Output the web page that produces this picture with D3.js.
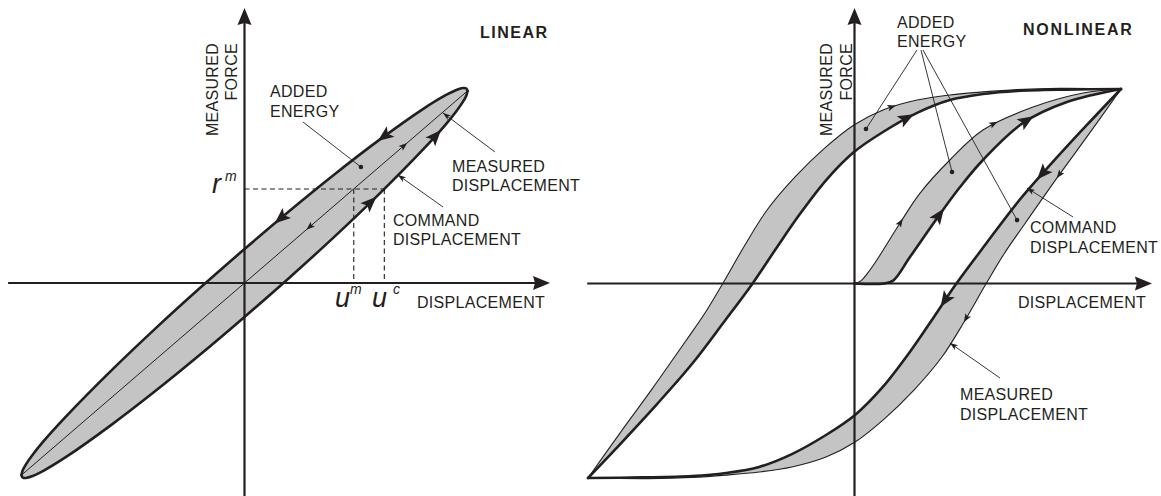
<!DOCTYPE html>
<html>
<head>
<meta charset="utf-8">
<script src="https://cdn.jsdelivr.net/npm/d3@7"></script>
<style>
  body { margin: 0; background: #fff; }
  svg { display: block; }
  text { font-family: "Liberation Sans", Arial, sans-serif; fill: #231f20; }
</style>
</head>
<body>
<svg id="chart" width="1161" height="496"></svg>
<script>
// ------------------------------------------------------------------
// LINEAR specimen: force vs displacement, normalised to peak = 1
// ------------------------------------------------------------------
// command-displacement loop, loading branch (moving up-right)
const linearLoading = [[-1,-0.985],[-0.995,-0.997],[-0.98,-1.0],[-0.95,-0.99],[-0.9,-0.962],[-0.8,-0.892],
  [-0.6,-0.73],[-0.4,-0.554],[-0.2,-0.368],[0,-0.174],[0.2,0.026],[0.4,0.234],[0.6,0.452],[0.8,0.684],
  [0.9,0.81],[0.95,0.881],[0.98,0.93],[0.995,0.962],[1,0.985]];
// command-displacement loop, unloading branch (moving down-left)
const linearUnloading = [[1,0.985],[0.995,0.997],[0.98,1.0],[0.95,0.99],[0.9,0.962],[0.8,0.892],
  [0.6,0.73],[0.4,0.554],[0.2,0.368],[0,0.174],[-0.2,-0.026],[-0.4,-0.234],[-0.6,-0.452],[-0.8,-0.684],
  [-0.9,-0.81],[-0.95,-0.881],[-0.98,-0.93],[-0.995,-0.962],[-1,-0.985]];
// measured displacement (straight line through the origin)
const linearMeasured = [[-1,-0.985],[1,0.985]];
// reference force and the two displacements reached at that force
const forceRm = 0.482;
const dispUm = 0.49;
const dispUc = 0.627;

// ------------------------------------------------------------------
// NONLINEAR specimen
// ------------------------------------------------------------------
// outer loop, rising branch
const outerRiseMeasured = [[-1,-1],[-0.88,-0.769],[-0.76,-0.543],[-0.636,-0.301],[-0.561,-0.152],[-0.493,0.003],
  [-0.411,0.198],[-0.328,0.378],[-0.223,0.548],[-0.111,0.697],[-0.002,0.815],[0.107,0.892],[0.235,0.943],
  [0.358,0.969],[0.482,0.985],[0.61,0.997],[0.771,1.003],[1,1]];
const outerRiseCommand = [[-1,-1],[-0.872,-0.815],[-0.741,-0.62],[-0.61,-0.414],[-0.49,-0.198],[-0.381,0.003],
  [-0.298,0.172],[-0.205,0.357],[-0.103,0.537],[-0.002,0.676],[0.107,0.779],[0.235,0.877],[0.358,0.943],
  [0.482,0.974],[0.61,0.99],[0.797,0.997],[1,1]];
// outer loop, falling branch
const outerFallCommand = [[1,1],[0.872,0.815],[0.741,0.62],[0.61,0.414],[0.49,0.198],[0.381,-0.003],
  [0.298,-0.172],[0.205,-0.357],[0.103,-0.537],[0.002,-0.676],[-0.107,-0.779],[-0.235,-0.877],[-0.358,-0.943],
  [-0.482,-0.974],[-0.61,-0.99],[-0.797,-0.997],[-1,-1]];
const outerFallMeasured = [[1,1],[0.88,0.769],[0.76,0.543],[0.636,0.301],[0.561,0.152],[0.493,-0.003],
  [0.411,-0.198],[0.328,-0.378],[0.223,-0.548],[0.111,-0.697],[0.002,-0.815],[-0.107,-0.892],[-0.235,-0.943],
  [-0.358,-0.969],[-0.482,-0.985],[-0.61,-0.997],[-0.771,-1.003],[-1,-1]];
// virgin loading curve from the origin
const virginMeasured = [[0,0],[0.025,0.015],[0.05,0.055],[0.084,0.121],[0.171,0.311],[0.246,0.465],
  [0.358,0.635],[0.482,0.789],[0.67,0.907],[0.858,0.979],[1,1]];
const virginCommand = [[0,0],[0.11,0],[0.145,0.015],[0.208,0.136],[0.313,0.342],[0.396,0.496],
  [0.482,0.635],[0.632,0.825],[0.797,0.933],[1,1]];

// ------------------------------------------------------------------
const INK = "#231f20", SHADE = "#c4c4c4";
const svg = d3.select("#chart");

const linear = {
  x: d3.scaleLinear().domain([-1, 1]).range([21.5, 467.5]),
  y: d3.scaleLinear().domain([-1, 1]).range([478, 88])
};
const nonlinear = {
  x: d3.scaleLinear().domain([-1, 1]).range([588, 1121]),
  y: d3.scaleLinear().domain([-1, 1]).range([478, 89])
};

const lineFor = p => d3.line().x(d => p.x(d[0])).y(d => p.y(d[1])).curve(d3.curveCatmullRom.alpha(0.5));

// shaded band between two branches sharing end points
function band(g, p, a, b) {
  const l = lineFor(p);
  const d = l(a) + "L" + l(b.slice().reverse()).slice(1) + "Z";
  g.append("path").attr("d", d).attr("fill", SHADE).attr("stroke", "none");
}
function stroke(g, p, data, w) {
  return g.append("path").attr("d", lineFor(p)(data)).attr("fill", "none")
    .attr("stroke", INK).attr("stroke-width", w)
    .attr("stroke-linejoin", "round").attr("stroke-linecap", "round");
}

const BIG = "M8,0 L-8,-6.5 L-4.5,0 L-8,6.5 Z";
const SMALL = "M4.5,0 L-4,-3.2 L-2.2,0 L-4,3.2 Z";

// arrowhead on a drawn path, at the point nearest to pt, pointing along (dir=1) or against (dir=-1) the path
function arrowOn(g, pathSel, p, pt, dir, shape) {
  const node = pathSel.node();
  const L = node.getTotalLength();
  const tx = p.x(pt[0]), ty = p.y(pt[1]);
  let best = 0, bd = Infinity;
  for (let s = 0; s <= L; s += 0.5) {
    const q = node.getPointAtLength(s);
    const dd = (q.x - tx) ** 2 + (q.y - ty) ** 2;
    if (dd < bd) { bd = dd; best = s; }
  }
  const a = node.getPointAtLength(Math.max(0, best - 4));
  const b = node.getPointAtLength(Math.min(L, best + 4));
  let ang = Math.atan2(b.y - a.y, b.x - a.x) * 180 / Math.PI;
  if (dir < 0) ang += 180;
  const c = node.getPointAtLength(best);
  g.append("path").attr("d", shape).attr("fill", INK)
    .attr("transform", `translate(${c.x},${c.y}) rotate(${ang})`);
}

function axes(g, p, xExt, yExt) {
  const x0 = p.x(0), y0 = p.y(0);
  g.append("line").attr("x1", p.x(xExt[0])).attr("x2", p.x(xExt[1]) - 12)
    .attr("y1", y0).attr("y2", y0).attr("stroke", INK).attr("stroke-width", 2.2);
  g.append("path").attr("d", "M0,0 L-17,-7 L-15,0 L-17,7 Z").attr("fill", INK)
    .attr("transform", `translate(${p.x(xExt[1])},${y0})`);
  g.append("line").attr("x1", x0).attr("x2", x0)
    .attr("y1", p.y(yExt[0])).attr("y2", p.y(yExt[1]) + 12).attr("stroke", INK).attr("stroke-width", 2.2);
  g.append("path").attr("d", "M0,0 L-17,-7 L-15,0 L-17,7 Z").attr("fill", INK)
    .attr("transform", `translate(${x0},${p.y(yExt[1])}) rotate(-90)`);
}

// leader from a label to a curve: with a small arrowhead or a dot at the far end
function leader(g, p, from, to, kind) {
  const x1 = p.x(from[0]), y1 = p.y(from[1]), x2 = p.x(to[0]), y2 = p.y(to[1]);
  g.append("line").attr("x1", x1).attr("y1", y1).attr("x2", x2).attr("y2", y2)
    .attr("stroke", INK).attr("stroke-width", 0.9);
  if (kind === "dot") {
    g.append("circle").attr("cx", x2).attr("cy", y2).attr("r", 2.3).attr("fill", INK);
  } else {
    const ang = Math.atan2(y2 - y1, x2 - x1) * 180 / Math.PI;
    g.append("path").attr("d", "M0,0 L-8,-2.8 L-6,0 L-8,2.8 Z").attr("fill", INK)
      .attr("transform", `translate(${x2},${y2}) rotate(${ang})`);
  }
}

function textLines(g, x, y, lines, step) {
  const t = g.append("text").attr("x", x).attr("y", y)
    .attr("font-size", 16).attr("letter-spacing", 0.3);
  lines.forEach((s, i) => t.append("tspan").attr("x", x).attr("y", y + i * step).text(s));
  return t;
}

function yTitle(g, xBase1, xBase2, yEnd) {
  [["MEASURED", xBase1], ["FORCE", xBase2]].forEach(([s, xb]) => {
    g.append("text").attr("transform", `translate(${xb},${yEnd}) rotate(-90)`)
      .attr("text-anchor", "end").attr("font-size", 16).attr("letter-spacing", 0.3).text(s);
  });
}

// ================= LINEAR panel =================
{
  const g = svg.append("g");
  const p = linear;
  band(g, p, linearLoading, linearUnloading);
  axes(g, p, [-1.06, 1.37], [-1.095, 1.41]);

  // dashed construction lines
  const dash = g.append("g").attr("stroke", INK).attr("stroke-width", 1.1)
    .attr("stroke-dasharray", "5,3.5").attr("fill", "none");
  dash.append("line").attr("x1", p.x(0)).attr("x2", p.x(dispUc)).attr("y1", p.y(forceRm)).attr("y2", p.y(forceRm));
  [dispUm, dispUc].forEach(u => dash.append("line").attr("x1", p.x(u)).attr("x2", p.x(u))
    .attr("y1", p.y(forceRm)).attr("y2", p.y(0)));

  const meas = stroke(g, p, linearMeasured, 1);
  const load = stroke(g, p, linearLoading, 2.6);
  const unload = stroke(g, p, linearUnloading, 2.6);

  arrowOn(g, unload, p, [0.621, 0.759], 1, BIG);
  arrowOn(g, unload, p, [0.159, 0.338], 1, BIG);
  arrowOn(g, load, p, [0.863, 0.749], 1, BIG);
  arrowOn(g, load, p, [0.563, 0.415], 1, BIG);
  arrowOn(g, meas, p, [0.711, 0.708], 1, SMALL);
  arrowOn(g, meas, p, [0.294, 0.287], -1, SMALL);

  leader(g, p, [0.262, 0.826], [0.522, 0.595], "dot");
  leader(g, p, [1.123, 0.672], [0.89, 0.872], "arrow");
  leader(g, p, [0.89, 0.39], [0.688, 0.554], "arrow");

  yTitle(g, 218, 237, 43);
  g.append("text").attr("x", 480).attr("y", 38).attr("font-size", 16).attr("font-weight", "bold")
    .attr("letter-spacing", 1.5).text("LINEAR");
  textLines(g, 270, 97, ["ADDED", "ENERGY"], 19.5);
  textLines(g, 452, 172, ["MEASURED", "DISPLACEMENT"], 19);
  textLines(g, 393, 226, ["COMMAND", "DISPLACEMENT"], 19);
  textLines(g, 417, 308, ["DISPLACEMENT"], 19);

  // symbols r^m, u^m, u^c
  const serif = "'Liberation Serif', 'Times New Roman', serif";
  const sym = (x, y, s, size) => g.append("text").attr("x", x).attr("y", y)
    .attr("font-family", serif).attr("font-style", "italic").attr("font-size", size).text(s);
  sym(212, 193, "r", 27); sym(225, 181, "m", 14);
  sym(335, 307, "u", 27); sym(350, 294, "m", 14);
  sym(372, 307, "u", 27); sym(393, 294, "c", 14);
}

// ================= NONLINEAR panel =================
{
  const g = svg.append("g");
  const p = nonlinear;
  band(g, p, outerRiseMeasured, outerRiseCommand);
  band(g, p, outerFallCommand, outerFallMeasured);
  band(g, p, virginMeasured, virginCommand);
  axes(g, p, [-1.003, 1.116], [-1.095, 1.416]);

  const orm = stroke(g, p, outerRiseMeasured, 1.1);
  const orc = stroke(g, p, outerRiseCommand, 2.6);
  const ofc = stroke(g, p, outerFallCommand, 2.6);
  const ofm = stroke(g, p, outerFallMeasured, 1.1);
  const vm = stroke(g, p, virginMeasured, 1.1);
  const vc = stroke(g, p, virginCommand, 2.6);

  arrowOn(g, orm, p, [0.141, 0.902], 1, SMALL);
  arrowOn(g, orc, p, [0.197, 0.851], 1, BIG);
  arrowOn(g, vm, p, [0.52, 0.825], 1, SMALL);
  arrowOn(g, vm, p, [0.171, 0.316], 1, SMALL);
  arrowOn(g, vc, p, [0.647, 0.835], 1, BIG);
  arrowOn(g, vc, p, [0.317, 0.352], 1, BIG);
  arrowOn(g, ofc, p, [0.689, 0.584], 1, BIG);
  arrowOn(g, ofc, p, [0.347, -0.095], 1, BIG);
  arrowOn(g, ofm, p, [0.767, 0.563], 1, SMALL);
  arrowOn(g, ofm, p, [0.415, -0.177], 1, SMALL);

  leader(g, p, [0.2345, 1.2005], [0.043, 0.794], "dot");
  leader(g, p, [0.2495, 1.2005], [0.366, 0.573], "dot");
  leader(g, p, [0.257, 1.2005], [0.61, 0.326], "dot");
  leader(g, p, [0.82, 0.342], [0.647, 0.491], "arrow");
  leader(g, p, [0.546, -0.486], [0.358, -0.306], "arrow");

  yTitle(g, 832, 852, 43);
  g.append("text").attr("x", 1023).attr("y", 35).attr("font-size", 16).attr("font-weight", "bold")
    .attr("letter-spacing", 1.7).text("NONLINEAR");
  textLines(g, 897, 28, ["ADDED", "ENERGY"], 19);
  textLines(g, 1030, 233, ["COMMAND", "DISPLACEMENT"], 20);
  textLines(g, 1018, 308, ["DISPLACEMENT"], 19);
  textLines(g, 960, 400, ["MEASURED", "DISPLACEMENT"], 20);
}
</script>
</body>
</html>
